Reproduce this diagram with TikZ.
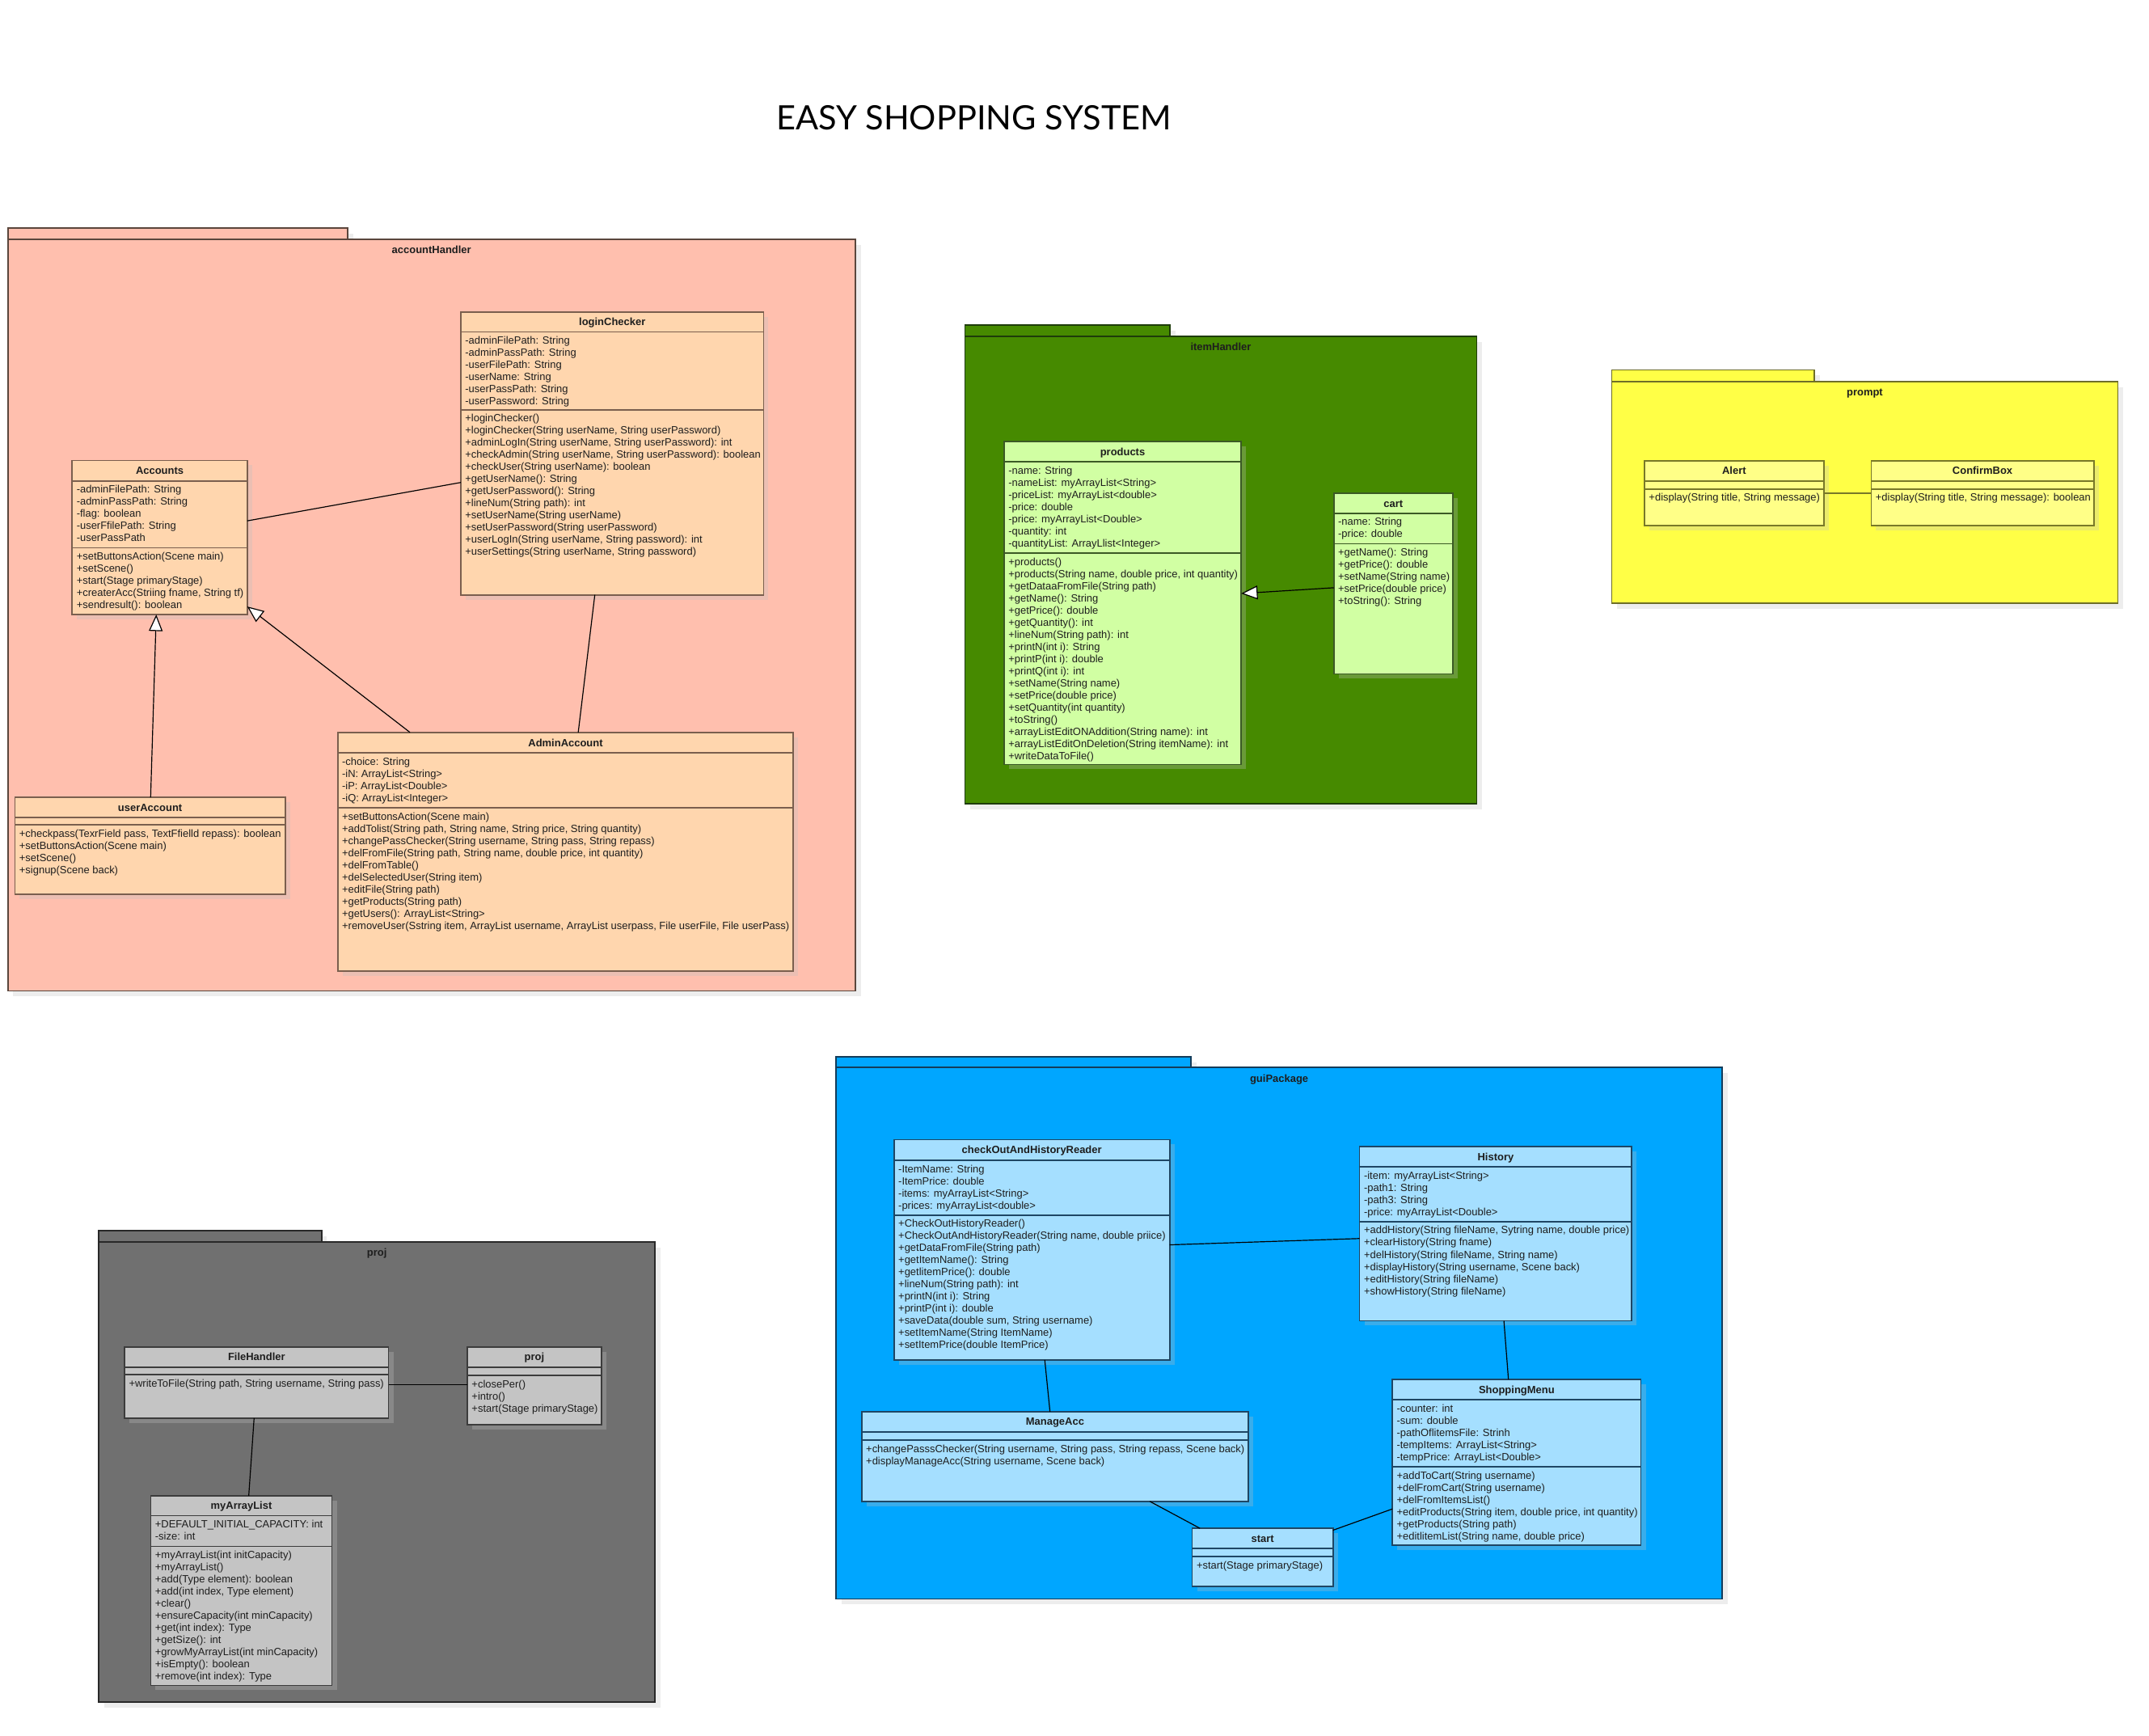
\documentclass[tikz,border=0pt]{standalone}
\usepackage{fontspec}
\setmainfont{Liberation Sans}
\newfontfamily\titlefont{Lato}
\usetikzlibrary{arrows.meta,shadows}
\definecolor{ahpkg}{HTML}{FFBFAE}
\definecolor{ahpb}{HTML}{5A463C}
\definecolor{ahcls}{HTML}{FFD6AE}
\definecolor{ahbd}{HTML}{7A5F4E}
\definecolor{ihpkg}{HTML}{468A00}
\definecolor{ihpb}{HTML}{1E3C0A}
\definecolor{ihcls}{HTML}{D1FFA3}
\definecolor{ihbd}{HTML}{3B5A25}
\definecolor{prpkg}{HTML}{FFFF46}
\definecolor{prpb}{HTML}{6E6E28}
\definecolor{prcls}{HTML}{FFFF87}
\definecolor{prbd}{HTML}{787828}
\definecolor{gppkg}{HTML}{00A6FF}
\definecolor{gppb}{HTML}{143C5A}
\definecolor{gpcls}{HTML}{A5DFFF}
\definecolor{gpbd}{HTML}{1E4664}
\definecolor{pjpkg}{HTML}{707070}
\definecolor{pjpb}{HTML}{282828}
\definecolor{pjcls}{HTML}{C4C4C4}
\definecolor{pjbd}{HTML}{3C3C3C}
\definecolor{txt}{HTML}{1E1E1E}
\definecolor{shade}{HTML}{C0C0C0}
\newcommand\clsfont{\fontsize{7.65}{8.85}\selectfont}
\tikzset{
 pkgbox/.style={anchor=north west, inner sep=0pt, outer sep=0pt, line width=1pt,
   drop shadow={shadow xshift=4pt, shadow yshift=-4pt, fill=black!7, opacity=1}},
 pkglabel/.style={anchor=base, inner sep=0pt, font=\clsfont\bfseries, text=txt},
 clsbox/.style={anchor=north west, inner sep=0pt, outer sep=0pt, line width=1pt,
   drop shadow={shadow xshift=3.5pt, shadow yshift=-3.5pt, fill=shade, opacity=0.3}},
 clsrule/.style={line width=1pt},
 clstitle/.style={anchor=base, inner sep=0pt, font=\clsfont\bfseries, text=txt},
 ctext/.style={anchor=base west, inner sep=0pt, font=\clsfont, text=txt},
 assoc/.style={line width=0.7pt, draw=black},
 inherit/.style={assoc, -{Triangle[length=12pt, width=10pt, fill=white]}},
}
% package: name, x1, tab top, tab x2, body top, x2, y2, scheme, label
\newcommand\pkg[9]{%
 \node[pkgbox, fill=#8pkg, draw=#8pb, minimum width={(#4-#2)*1pt}, minimum height={(#5-#3)*1pt}] (#1-tab) at (#2,#3) {};
 \node[pkgbox, fill=#8pkg, draw=#8pb, minimum width={(#6-#2)*1pt}, minimum height={(#7-#5)*1pt}] (#1) at (#2,#5) {};
 \node[pkglabel] (#1-label) at ({(#2+#6)/2},{#5+10.6}) {#9};
}
% class: name, x1, y1, x2, y2, header bottom, attribute bottom, scheme, title
\newcommand\klass[9]{%
 \node[clsbox, fill=#8cls, draw=#8bd, minimum width={(#4-#2)*1pt}, minimum height={(#5-#3)*1pt}] (#1) at (#2,#3) {};
 \draw[clsrule, draw=#8bd] (#2,#6) -- (#4,#6) (#2,#7) -- (#4,#7);
 \node[clstitle] (#1-title) at ({(#2+#4)/2},{(#3+#6)/2+2.7}) {#9};
}
% compartment lines: prefix, x1, compartment top, list
\newcommand\cmp[4]{%
 \foreach \t [count=\i] in {#4} {%
  \node[ctext] (#1-\i) at ({#2+3},{#3+8.8+(\i-1)*8.85}) {\t};
 }%
}
\begin{document}
\begin{tikzpicture}[x=1pt,y=-1pt]
\fill[white] (0,0) rectangle (1568,1266);
\useasboundingbox (0,0) rectangle (1568,1266);
\node[font=\titlefont\fontsize{24.5}{30}\selectfont, anchor=base, inner sep=0pt] (title) at (710.5,94.4) {EASY SHOPPING SYSTEM};

% ---------------- accountHandler
\pkg{pah}{5.7}{166.2}{253.7}{174.6}{624}{722.9}{ah}{accountHandler}
\klass{login}{336.2}{227.5}{557.2}{434}{242.1}{299}{ah}{loginChecker}
\cmp{login-a}{336.2}{242.1}{{-adminFilePath: String},{-adminPassPath: String},{-userFilePath: String},{-userName: String},{-userPassPath: String},{-userPassword: String}}
\cmp{login-m}{336.2}{299}{{+loginChecker()},{+loginChecker(String userName, String userPassword)},{+adminLogIn(String userName, String userPassword): int},{+checkAdmin(String userName, String userPassword): boolean},{+checkUser(String userName): boolean},{+getUserName(): String},{+getUserPassword(): String},{+lineNum(String path): int},{+setUserName(String userName)},{+setUserPassword(String userPassword)},{+userLogIn(String userName, String password): int},{+userSettings(String userName, String password)}}
\klass{accounts}{52.7}{335.9}{180.4}{448.4}{351}{399.6}{ah}{Accounts}
\cmp{accounts-a}{52.7}{351}{{-adminFilePath: String},{-adminPassPath: String},{-flag: boolean},{-userFfilePath: String},{-userPassPath}}
\cmp{accounts-m}{52.7}{399.6}{{+setButtonsAction(Scene main)},{+setScene()},{+start(Stage primaryStage)},{+createrAcc(Striing fname, String tf)},{+sendresult(): boolean}}
\klass{user}{10.9}{581.7}{208.1}{652.3}{596.3}{601.8}{ah}{userAccount}
\cmp{user-m}{10.9}{601.8}{{+checkpass(TexrField pass, TextFfielld repass): boolean},{+setButtonsAction(Scene main)},{+setScene()},{+signup(Scene back)}}
\klass{admin}{246.4}{534.3}{578.9}{708.4}{549.3}{589.4}{ah}{AdminAccount}
\cmp{admin-a}{246.4}{549.3}{{-choice: String},{-iN: ArrayList<String>},{-iP: ArrayList<Double>},{-iQ: ArrayList<Integer>}}
\cmp{admin-m}{246.4}{589.4}{{+setButtonsAction(Scene main)},{+addTolist(String path, String name, String price, String quantity)},{+changePassChecker(String username, String pass, String repass)},{+delFromFile(String path, String name, double price, int quantity)},{+delFromTable()},{+delSelectedUser(String item)},{+editFile(String path)},{+getProducts(String path)},{+getUsers(): ArrayList<String>},{+removeUser(Sstring item, ArrayList username, ArrayList userpass, File userFile, File userPass)}}
\draw[assoc] ([yshift=-44.1pt]accounts.north east) -- ([yshift=-124.5pt]login.north west);
\draw[assoc] ([xshift=97.8pt]login.south west) -- ([xshift=175.5pt]admin.north west);
\draw[inherit] ([xshift=99pt]user.north west) -- ([xshift=61.3pt]accounts.south west);
\draw[inherit] ([xshift=52.7pt]admin.north west) -- ([yshift=-106.6pt]accounts.north east);

% ---------------- itemHandler
\pkg{pih}{704}{237.1}{853.7}{245.3}{1077.5}{586.4}{ih}{itemHandler}
\klass{products}{732.6}{322.2}{905.6}{557.7}{336.9}{403.6}{ih}{products}
\cmp{products-a}{732.6}{336.9}{{-name: String},{-nameList: myArrayList<String>},{-priceList: myArrayList<double>},{-price: double},{-price: myArrayList<Double>},{-quantity: int},{-quantityList: ArrayLlist<Integer>}}
\cmp{products-m}{732.6}{403.6}{{+products()},{+products(String name, double price, int quantity)},{+getDataaFromFile(String path)},{+getName(): String},{+getPrice(): double},{+getQuantity(): int},{+lineNum(String path): int},{+printN(int i): String},{+printP(int i): double},{+printQ(int i): int},{+setName(String name)},{+setPrice(double price)},{+setQuantity(int quantity)},{+toString()},{+arrayListEditONAddition(String name): int},{+arrayListEditOnDeletion(String itemName): int},{+writeDataToFile()}}
\klass{cart}{973.2}{360}{1060}{491.7}{374.4}{396.8}{ih}{cart}
\cmp{cart-a}{973.2}{374.4}{{-name: String},{-price: double}}
\cmp{cart-m}{973.2}{396.8}{{+getName(): String},{+getPrice(): double},{+setName(String name)},{+setPrice(double price)},{+toString(): String}}
\draw[inherit] ([yshift=-68.8pt]cart.north west) -- ([yshift=-110.8pt]products.north east);

% ---------------- prompt
\pkg{ppr}{1176}{269.8}{1323.8}{278.3}{1545.2}{440.1}{pr}{prompt}
\klass{alert}{1199.9}{336.1}{1330.7}{383.5}{351}{356.9}{pr}{Alert}
\cmp{alert-m}{1199.9}{356.9}{{+display(String title, String message)}}
\klass{confirm}{1365.3}{336.1}{1527.7}{383.5}{351}{356.9}{pr}{ConfirmBox}
\cmp{confirm-m}{1365.3}{356.9}{{+display(String title, String message): boolean}}
\draw[assoc, draw=prbd, line width=1.1pt] ([yshift=-23.8pt]alert.north east) -- ([yshift=-23.8pt]confirm.north west);

% ---------------- guiPackage
\pkg{pgp}{610}{771}{868.8}{778.8}{1256.6}{1166.6}{gp}{guiPackage}
\klass{checkout}{652.3}{831.5}{853.4}{992.2}{846.6}{886.5}{gp}{checkOutAndHistoryReader}
\cmp{checkout-a}{652.3}{846.6}{{-ItemName: String},{-ItemPrice: double},{-items: myArrayList<String>},{-prices: myArrayList<double>}}
\cmp{checkout-m}{652.3}{886.5}{{+CheckOutHistoryReader()},{+CheckOutAndHistoryReader(String name, double priice)},{+getDataFromFile(String path)},{+getItemName(): String},{+getlitemPrice(): double},{+lineNum(String path): int},{+printN(int i): String},{+printP(int i): double},{+saveData(double sum, String username)},{+setItemName(String ItemName)},{+setItemPrice(double ItemPrice)}}
\klass{history}{992}{836.4}{1190.6}{963.6}{851.3}{891.4}{gp}{History}
\cmp{history-a}{992}{851.3}{{-item: myArrayList<String>},{-path1: String},{-path3: String},{-price: myArrayList<Double>}}
\cmp{history-m}{992}{891.4}{{+addHistory(String fileName, Sytring name, double price)},{+clearHistory(String fname)},{+delHistory(String fileName, String name)},{+displayHistory(String username, Scene back)},{+editHistory(String fileName)},{+showHistory(String fileName)}}
\klass{manage}{628.7}{1029.9}{910.9}{1095.4}{1044.6}{1050.7}{gp}{ManageAcc}
\cmp{manage-m}{628.7}{1050.7}{{+changePasssChecker(String username, String pass, String repass, Scene back)},{+displayManageAcc(String username, Scene back)}}
\klass{shop}{1015.9}{1006.3}{1197.3}{1127.2}{1021.2}{1070.2}{gp}{ShoppingMenu}
\cmp{shop-a}{1015.9}{1021.2}{{-counter: int},{-sum: double},{-pathOflitemsFile: Strinh},{-tempItems: ArrayList<String>},{-tempPrice: ArrayList<Double>}}
\cmp{shop-m}{1015.9}{1070.2}{{+addToCart(String username)},{+delFromCart(String username)},{+delFromItemsList()},{+editProducts(String item, double price, int quantity)},{+getProducts(String path)},{+editlitemList(String name, double price)}}
\klass{start}{869.9}{1115}{972.6}{1157.5}{1129.8}{1135.7}{gp}{start}
\cmp{start-m}{869.9}{1135.7}{{+start(Stage primaryStage)}}
\draw[assoc] ([yshift=-76.7pt]checkout.north east) -- ([yshift=-67.2pt]history.north west);
\draw[assoc] ([xshift=110pt]checkout.south west) -- ([xshift=137.4pt]manage.north west);
\draw[assoc] ([xshift=105.3pt]history.south west) -- ([xshift=84.7pt]shop.north west);
\draw[assoc] ([xshift=210.3pt]manage.south west) -- ([xshift=5.6pt]start.north west);
\draw[assoc] ([yshift=-1.4pt]start.north east) -- ([yshift=-94.6pt]shop.north west);

% ---------------- proj
\pkg{ppj}{72}{898}{234.6}{906}{478}{1241.9}{pj}{proj}
\klass{filehandler}{90.9}{982.7}{283.5}{1034.6}{997.4}{1003}{pj}{FileHandler}
\cmp{filehandler-m}{90.9}{1003}{{+writeToFile(String path, String username, String pass)}}
\klass{projcls}{341}{982.7}{438.7}{1039.3}{997.4}{1003.5}{pj}{proj}
\cmp{projcls-m}{341}{1003.5}{{+closePer()},{+intro()},{+start(Stage primaryStage)}}
\klass{myarray}{110}{1091.2}{242.2}{1229.7}{1105.7}{1128.2}{pj}{myArrayList}
\cmp{myarray-a}{110}{1105.7}{{+DEFAULT\_INITIAL\_CAPACITY: int},{-size: int}}
\cmp{myarray-m}{110}{1128.2}{{+myArrayList(int initCapacity)},{+myArrayList()},{+add(Type element): boolean},{+add(int index, Type element)},{+clear()},{+ensureCapacity(int minCapacity)},{+get(int index): Type},{+getSize(): int},{+growMyArrayList(int minCapacity)},{+isEmpty(): boolean},{+remove(int index): Type}}
\draw[assoc] ([yshift=-27.3pt]filehandler.north east) -- ([yshift=-27.3pt]projcls.north west);
\draw[assoc] ([xshift=94.5pt]filehandler.south west) -- ([xshift=71.5pt]myarray.north west);
\end{tikzpicture}
\end{document}
